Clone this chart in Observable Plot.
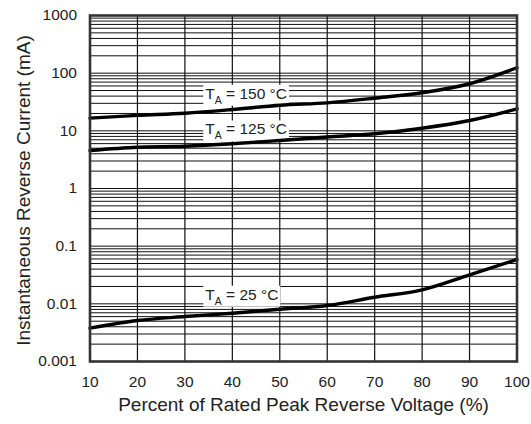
<!DOCTYPE html>
<html>
<head>
<meta charset="utf-8">
<script src="https://cdn.jsdelivr.net/npm/d3@7"></script>
<script src="https://cdn.jsdelivr.net/npm/@observablehq/plot@0.6"></script>
<style>
  html, body { margin: 0; padding: 0; background: #fff; }
  svg { display: block; }
</style>
</head>
<body>
<div id="chart"></div>
<script>
// ---- data ----
const voltage = [10, 20, 30, 40, 50, 60, 70, 80, 90, 100];
const current150 = [16.6, 18.5, 20.2, 23.4, 27.8, 30.6, 36.8, 45.7, 65.5, 124];
const current125 = [4.56, 5.2, 5.4, 5.96, 6.8, 7.8, 8.9, 11.1, 15.1, 24.1];
const current25 = [0.00379, 0.00514, 0.00603, 0.00687, 0.00807, 0.00935, 0.0130, 0.0175, 0.0318, 0.0586];

const seriesNames = ["150", "125", "25"];
const labelTemps = ["150 °C", "125 °C", "25 °C"];
const labelAtVoltage = [34.3, 34.3, 34.3];
const labelAtCurrent = [43.9, 10.55, 0.01436];

const xTicks = [10, 20, 30, 40, 50, 60, 70, 80, 90, 100];
const yTicks = [0.001, 0.01, 0.1, 1, 10, 100, 1000];
const yTickLabels = ["0.001", "0.01", "0.1", "1", "10", "100", "1000"];

const xTitle = "Percent of Rated Peak Reverse Voltage (%)";
const yTitle = "Instantaneous Reverse Current (mA)";

// ---- tables built from the arrays ----
const seriesValues = [current150, current125, current25];
const rows = seriesNames.flatMap((s, k) =>
  voltage.map((v, i) => ({series: s, voltage: v, current: seriesValues[k][i]})));
const labelRows = labelTemps.map((t, k) => ({
  text: "T_A = " + t, voltage: labelAtVoltage[k], current: labelAtCurrent[k]
}));
// minor log grid (1..9 per decade) from the log scale's own ticks
const yGrid = d3.scaleLog().domain([yTicks[0], yTicks[yTicks.length - 1]]).ticks();

const font = "'Liberation Sans', Arial, Helvetica, sans-serif";

const plot = Plot.plot({
  width: 531,
  height: 424,
  marginLeft: 89.5,
  marginRight: 14.5,
  marginTop: 15,
  marginBottom: 63,
  style: {fontFamily: font, background: "white", color: "#222", overflow: "visible"},
  x: {domain: [10, 100]},
  y: {type: "log", domain: [0.001, 1000]},
  marks: [
    Plot.ruleY(yGrid, {stroke: "#111", strokeWidth: 1}),
    Plot.ruleX(xTicks, {stroke: "#111", strokeWidth: 1.2}),
    Plot.text(labelRows, {x: "voltage", y: "current", text: "text", textAnchor: "start",
      fontSize: 15.5, fill: "#222"}),
    Plot.line(rows, {x: "voltage", y: "current", z: "series", stroke: "#000",
      strokeWidth: 3.4, curve: "monotone-x"}),
    Plot.frame({stroke: "#333", strokeWidth: 2.6}),
    Plot.axisX(xTicks, {tickSize: 0, tickPadding: 14, fontSize: 15.5, label: null, fill: "#222"}),
    Plot.axisY(yTicks, {tickSize: 0, tickPadding: 13, fontSize: 15.5, label: null, fill: "#222",
      tickFormat: d => yTickLabels[yTicks.indexOf(d)]}),
    Plot.text([xTitle], {frameAnchor: "bottom", dy: 49.5, fontSize: 19, fill: "#222",
      textAnchor: "middle"}),
    Plot.text([yTitle], {frameAnchor: "left", dx: -66.5, dy: 2, rotate: -90, fontSize: 19,
      fill: "#222", textAnchor: "middle"})
  ]
});

document.getElementById("chart").append(plot);

// subscripts and white label boxes
d3.select(plot).selectAll("text").each(function () {
  const s = this.textContent;
  if (!s.startsWith("T_A")) return;
  const rest = s.slice(3);
  const t = d3.select(this);
  t.text(null);
  t.append("tspan").text("T");
  t.append("tspan").attr("font-size", 10.5).attr("dy", 5).text("A");
  t.append("tspan").attr("dy", -5).text(rest);
  const b = this.getBBox();
  d3.select(this.parentNode).insert("rect", () => this)
    .attr("x", b.x - 2).attr("y", b.y).attr("width", b.width + 4).attr("height", b.height)
    .attr("fill", "white")
    .attr("transform", this.getAttribute("transform"));
});
</script>
</body>
</html>
